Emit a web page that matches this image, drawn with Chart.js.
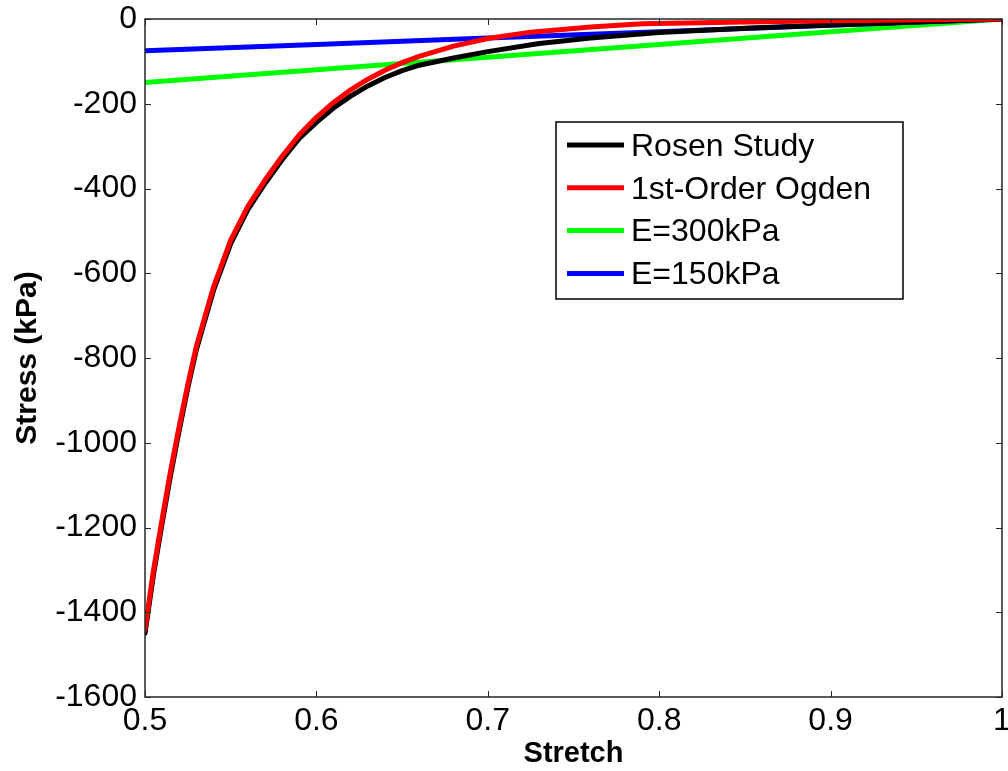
<!DOCTYPE html>
<html>
<head>
<meta charset="utf-8">
<script src="https://cdn.jsdelivr.net/npm/chart.js@4.4.1/dist/chart.umd.min.js"></script>
<style>
  html, body { margin: 0; padding: 0; background: #fff; }
  #wrap { width: 1008px; height: 771px; }
</style>
</head>
<body>
<div id="wrap"><canvas id="grafico"></canvas></div>
<script>
// valores (stretch x stress em kPa)
const stretchRosen = [0.500, 0.505, 0.510, 0.515, 0.520, 0.525, 0.530, 0.540, 0.550, 0.560, 0.570, 0.580, 0.590, 0.600, 0.610, 0.620, 0.630, 0.640, 0.650, 0.660, 0.680, 0.700, 0.730, 0.760, 0.800, 0.850, 0.900, 0.950, 1.000];
const stressRosen  = [-1450, -1310, -1190, -1075, -970, -870, -780, -640, -530, -450, -388, -332, -282, -244, -210, -182, -158, -138, -122, -109, -92, -77, -58, -45, -32, -22, -14, -7, 0];

const stretchOgden = [0.500, 0.505, 0.510, 0.515, 0.520, 0.525, 0.530, 0.540, 0.550, 0.560, 0.570, 0.580, 0.590, 0.600, 0.610, 0.620, 0.630, 0.640, 0.650, 0.660, 0.680, 0.700, 0.725, 0.760, 0.790, 0.850, 0.900, 1.000];
const stressOgden  = [-1440, -1300, -1180, -1065, -960, -862, -772, -632, -522, -442, -380, -324, -273, -232, -197, -167, -142, -121, -103, -88, -64, -46, -31, -19, -11, -7, -4, 0];

const stretchLinear = [0.5, 0.6, 0.7, 0.8, 0.9, 1.0];
const stressE300    = [-150, -120, -90, -60, -30, 0];
const stressE150    = [-75, -60, -45, -30, -15, 0];

const xTicks = [0.5, 0.6, 0.7, 0.8, 0.9, 1];
const yTicks = [0, -200, -400, -600, -800, -1000, -1200, -1400, -1600];

const fonte = '"Liberation Sans", Arial, sans-serif';

function pontos(xs, ys) {
    return xs.map((x, i) => ({ x: x, y: ys[i] }));
}

// moldura, ticks internos e legenda no estilo do MATLAB
const moldura = {
    id: 'moldura',
    afterDraw(chart) {
        const ctx = chart.ctx;
        const a = chart.chartArea;
        const sx = chart.scales.x, sy = chart.scales.y;
        ctx.save();
        ctx.strokeStyle = '#262626';
        ctx.lineWidth = 1.5;
        ctx.strokeRect(a.left, a.top, a.right - a.left, a.bottom - a.top);
        ctx.lineWidth = 1;
        xTicks.forEach(v => {
            const px = Math.round(sx.getPixelForValue(v)) + 0.5;
            ctx.beginPath();
            ctx.moveTo(px, a.bottom); ctx.lineTo(px, a.bottom - 6);
            ctx.moveTo(px, a.top); ctx.lineTo(px, a.top + 6);
            ctx.stroke();
        });
        yTicks.forEach(v => {
            const py = Math.round(sy.getPixelForValue(v)) + 0.5;
            ctx.beginPath();
            ctx.moveTo(a.left, py); ctx.lineTo(a.left + 6, py);
            ctx.moveTo(a.right, py); ctx.lineTo(a.right - 6, py);
            ctx.stroke();
        });

        // legenda
        const bx = 556, by = 122, bw = 347, bh = 177;
        ctx.fillStyle = '#fff';
        ctx.fillRect(bx, by, bw, bh);
        ctx.strokeStyle = '#000';
        ctx.lineWidth = 1.5;
        ctx.strokeRect(bx, by, bw, bh);
        ctx.font = '32px ' + fonte;
        ctx.textBaseline = 'middle';
        ctx.textAlign = 'left';
        chart.data.datasets.forEach((d, i) => {
            const y = 145 + i * 42.8;
            ctx.strokeStyle = d.borderColor;
            ctx.lineWidth = 5;
            ctx.beginPath();
            ctx.moveTo(567, y); ctx.lineTo(624, y);
            ctx.stroke();
            ctx.fillStyle = '#000';
            ctx.fillText(d.label, 631, y + 2);
        });
        ctx.restore();
    }
};

const ctx = document.getElementById('grafico').getContext('2d');
new Chart(ctx, {
    type: 'line',
    data: {
        datasets: [
            { label: 'Rosen Study', data: pontos(stretchRosen, stressRosen), borderColor: '#000000', order: 1 },
            { label: '1st-Order Ogden', data: pontos(stretchOgden, stressOgden), borderColor: '#ff0000', order: 0 },
            { label: 'E=300kPa', data: pontos(stretchLinear, stressE300), borderColor: '#00ff00', order: 3 },
            { label: 'E=150kPa', data: pontos(stretchLinear, stressE150), borderColor: '#0000ff', order: 2 }
        ]
    },
    options: {
        responsive: true,
        maintainAspectRatio: false,
        animation: false,
        devicePixelRatio: 1,
        layout: { padding: { top: 19, right: 6, left: 0, bottom: 0 } },
        elements: {
            line: { borderWidth: 5, tension: 0, borderCapStyle: 'round', borderJoinStyle: 'round' },
            point: { radius: 0 }
        },
        plugins: {
            legend: { display: false },
            tooltip: { enabled: false }
        },
        scales: {
            x: {
                type: 'linear',
                min: 0.5, max: 1,
                afterBuildTicks: s => { s.ticks = xTicks.map(v => ({ value: v })); },
                afterFit: s => { s.height = 74; s.paddingLeft = 0; s.paddingRight = 0; },
                grid: { display: false, drawTicks: false },
                border: { display: false },
                ticks: {
                    padding: 5,
                    maxRotation: 0,
                    autoSkip: false,
                    color: '#000',
                    font: { family: fonte, size: 32 },
                    callback: v => String(v)
                },
                title: {
                    display: true, text: 'Stretch', color: '#000',
                    font: { family: fonte, size: 29, weight: 'bold' },
                    padding: { top: 0, bottom: 0 }
                }
            },
            y: {
                type: 'linear',
                min: -1600, max: 0,
                afterBuildTicks: s => { s.ticks = yTicks.map(v => ({ value: v })); },
                afterFit: s => { s.width = 145; s.paddingTop = 0; s.paddingBottom = 0; },
                grid: { display: false, drawTicks: false },
                border: { display: false },
                ticks: {
                    padding: 8,
                    autoSkip: false,
                    color: '#000',
                    font: { family: fonte, size: 32 },
                    callback: v => String(v)
                },
                title: {
                    display: true, text: 'Stress (kPa)', color: '#000',
                    font: { family: fonte, size: 30, weight: 'bold' },
                    padding: { top: 10, bottom: 0 }
                }
            }
        }
    },
    plugins: [moldura]
});
</script>
</body>
</html>
